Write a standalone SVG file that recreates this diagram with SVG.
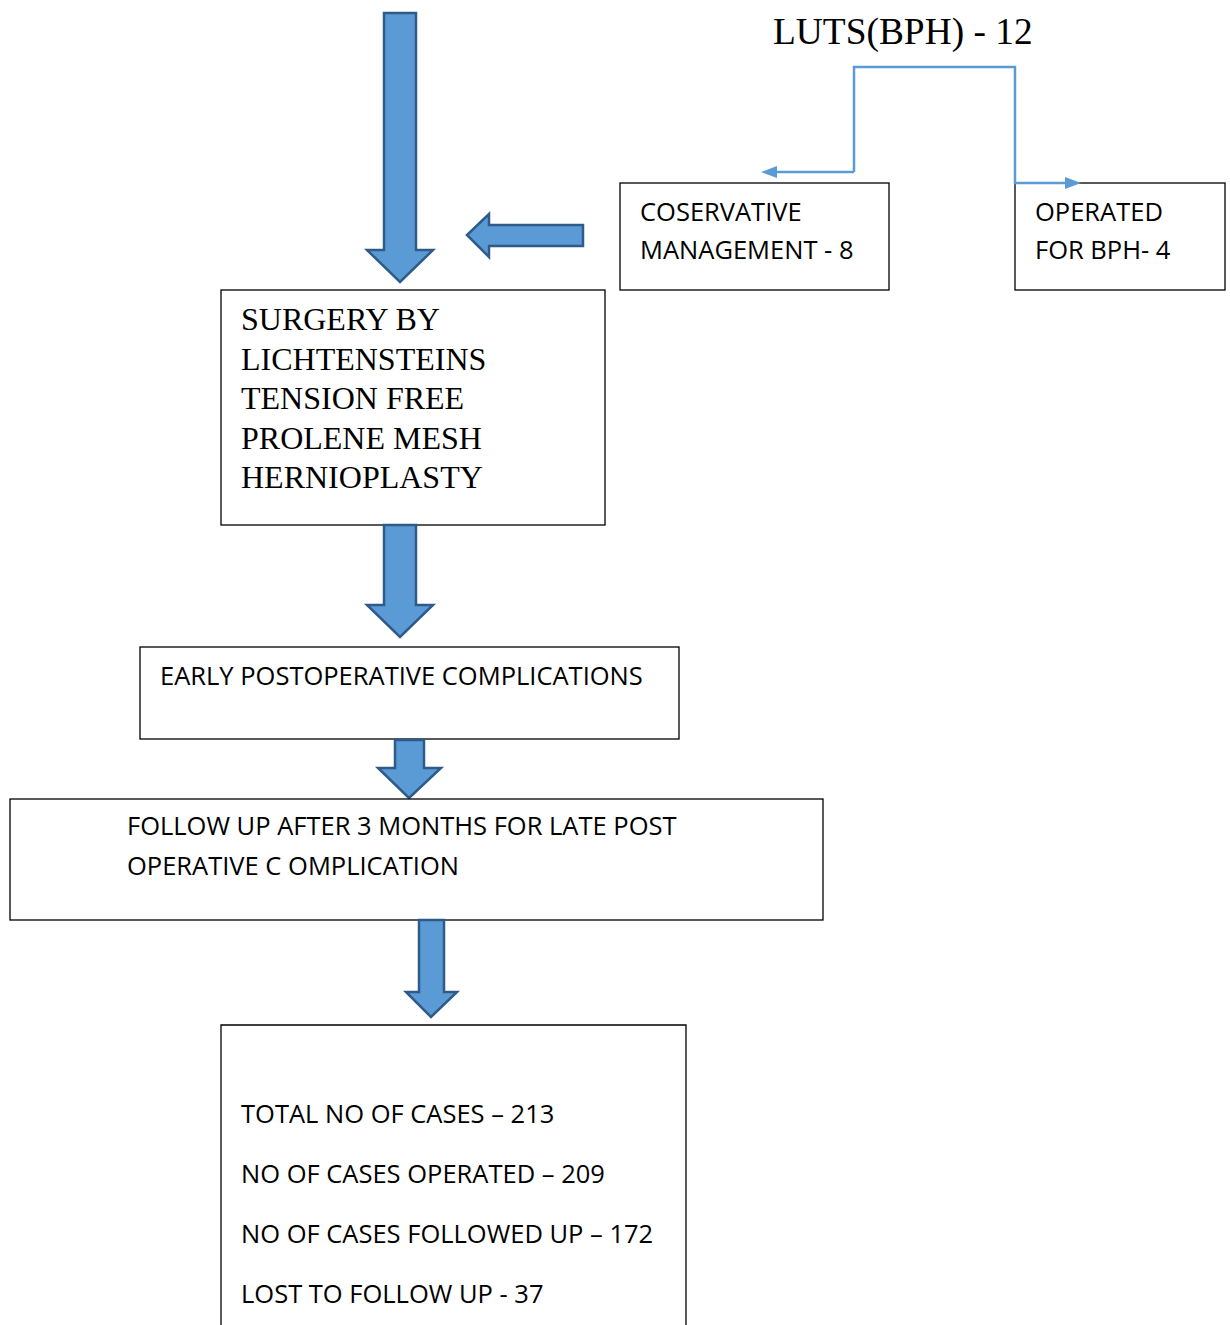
<svg xmlns="http://www.w3.org/2000/svg" width="1230" height="1325" viewBox="0 0 1230 1325">
<style>
.box{fill:#fff;stroke:#000;stroke-width:1.3}
.blk{fill:#5B9BD5;stroke:#2E5B8A;stroke-width:2.5;stroke-linejoin:miter}
.sans{font-family:"Open Sans","Liberation Sans",Arial,sans-serif;font-size:25.5px;fill:#000}
.serif{font-family:"Liberation Serif","Times New Roman",serif;fill:#000}
.conn{fill:none;stroke:#5B9BD5;stroke-width:2.5}
</style>

<g id="arrow-top">
<polygon class="blk" points="384,13 416,13 416,250 433,250 400,282 367,250 384,250"/>
</g>
<g id="arrow-left">
<polygon class="blk" points="583,225 583,246 489,246 489,257 467,235 489,214 489,225"/>
</g>

<g id="luts">
<text class="serif" x="773" y="44" font-size="37.4">LUTS(BPH) - 12</text>
</g>

<g id="conservative">
<rect class="box" x="620" y="183" width="269" height="107"/>
<text class="sans" x="640" y="221">COSERVATIVE</text>
<text class="sans" x="640" y="259">MANAGEMENT - 8</text>
</g>

<g id="operated">
<rect class="box" x="1015" y="183" width="210" height="107"/>
<text class="sans" x="1035" y="221">OPERATED</text>
<text class="sans" x="1035" y="259">FOR BPH- 4</text>
</g>

<g id="surgery">
<rect class="box" x="221" y="290" width="384" height="235"/>
<text class="serif" font-size="32" x="241" y="330">SURGERY BY</text>
<text class="serif" font-size="32" x="241" y="370">LICHTENSTEINS</text>
<text class="serif" font-size="32" x="241" y="409">TENSION FREE</text>
<text class="serif" font-size="32" x="241" y="449">PROLENE MESH</text>
<text class="serif" font-size="32" x="241" y="488">HERNIOPLASTY</text>
</g>

<g id="arrow-2">
<polygon class="blk" points="384,525 416,525 416,605 433,605 400,637 367,605 384,605"/>
</g>

<g id="early">
<rect class="box" x="140" y="647" width="539" height="92"/>
<text class="sans" x="160" y="685">EARLY POSTOPERATIVE COMPLICATIONS</text>
</g>

<g id="arrow-3">
<polygon class="blk" points="395,740 424,740 424,768 441,768 409,798 378,768 395,768"/>
</g>

<g id="followup">
<rect class="box" x="10" y="799" width="813" height="121"/>
<text class="sans" x="127" y="835">FOLLOW UP AFTER 3 MONTHS FOR LATE POST</text>
<text class="sans" x="127" y="875">OPERATIVE C OMPLICATION</text>
</g>

<g id="arrow-4">
<polygon class="blk" points="419,920 444,920 444,992 457,992 431,1017 406,992 419,992"/>
</g>

<g id="totals">
<path class="box" d="M221,1330 L221,1025 L686,1025 L686,1330"/>
<text class="sans" x="241" y="1123">TOTAL NO OF CASES – 213</text>
<text class="sans" x="241" y="1183">NO OF CASES OPERATED – 209</text>
<text class="sans" x="241" y="1243">NO OF CASES FOLLOWED UP – 172</text>
<text class="sans" x="241" y="1303">LOST TO FOLLOW UP - 37</text>
</g>

<g id="connectors">
<polyline class="conn" points="854,172 854,67 1015,67 1015,183 1066,183"/>
<line class="conn" x1="854" y1="172" x2="776" y2="172"/>
<polygon points="761,172 777,166 777,178" fill="#5B9BD5"/>
<polygon points="1081,183 1065,177 1065,189" fill="#5B9BD5"/>
</g>
</svg>
